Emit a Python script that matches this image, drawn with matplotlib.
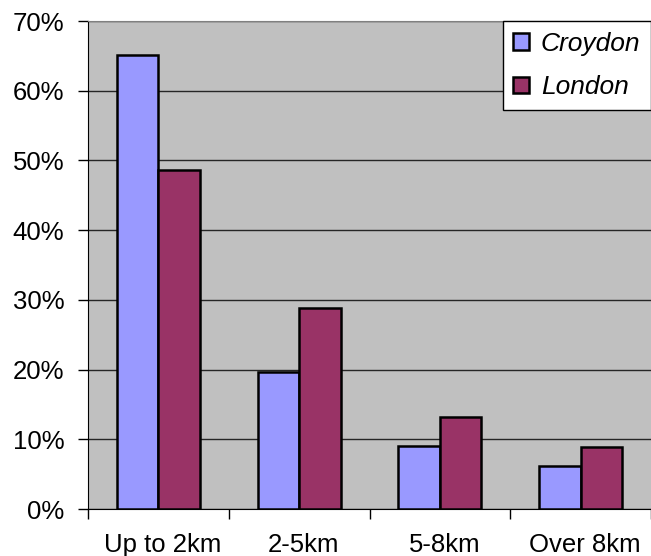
import numpy as np
import matplotlib.pyplot as plt
import matplotlib.transforms as mtransforms
from matplotlib.patches import Patch
from matplotlib.ticker import FuncFormatter

plt.rcParams['font.family'] = ['Liberation Sans', 'DejaVu Sans']

# share of trips by distance band
categories = ["Up to 2km", "2-5km", "5-8km", "Over 8km"]
croydon = [65.1, 19.7, 9.0, 6.1]
london = [48.6, 28.9, 13.2, 8.9]

fig = plt.figure(figsize=(6.51, 5.56), dpi=100)
ax = fig.add_axes([0.1352, 0.0845, 0.8648, 0.8777])
ax.set_facecolor("#C0C0C0")

x = np.arange(len(categories))
w = 0.295
ax.bar(x - w / 2, croydon, w, color="#9999FF", edgecolor="black", linewidth=1.8, zorder=3)
ax.bar(x + w / 2, london, w, color="#993366", edgecolor="black", linewidth=1.8, zorder=3)

ax.set_xlim(-0.5, len(categories) - 0.5)
ax.set_ylim(0, 70)
ax.set_yticks(np.arange(0, 71, 10))
ax.yaxis.set_major_formatter(FuncFormatter(lambda v, p: f"{v:.0f}%"))
ax.yaxis.grid(True, color="#262626", linewidth=1.0, zorder=1)

# category labels centered, tick marks on the boundaries
ax.set_xticks(x)
ax.set_xticklabels(categories)
ax.set_xticks(np.arange(-0.5, len(categories)), minor=True)
ax.tick_params(axis="x", which="major", length=0, pad=17, labelsize=18.5)
ax.tick_params(axis="x", which="minor", length=7, width=1, direction="out")
ax.tick_params(axis="y", length=7, width=1, direction="out", labelsize=18.5, pad=10)

# nudge category labels slightly to the right
shift = mtransforms.ScaledTranslation(4.5 / 100, 0, fig.dpi_scale_trans)
for lbl in ax.get_xticklabels():
    lbl.set_transform(lbl.get_transform() + shift)

ax.spines["left"].set_color("black")
ax.spines["bottom"].set_color("black")
ax.spines["top"].set_color("#808080")
ax.spines["right"].set_visible(False)

handles = [Patch(facecolor="#9999FF", edgecolor="black", linewidth=1.8, label="Croydon"),
           Patch(facecolor="#993366", edgecolor="black", linewidth=1.8, label="London")]
leg = ax.legend(handles=handles, loc="upper right", bbox_to_anchor=(1.0, 1.0),
                prop={"style": "italic", "size": 19}, frameon=True, fancybox=False,
                edgecolor="black", framealpha=1, borderaxespad=0,
                handlelength=0.6, handleheight=0.6, handletextpad=0.45,
                labelspacing=0.75, borderpad=0.4)
leg.get_frame().set_linewidth(1.0)

fig.savefig("out.png", dpi=100)
